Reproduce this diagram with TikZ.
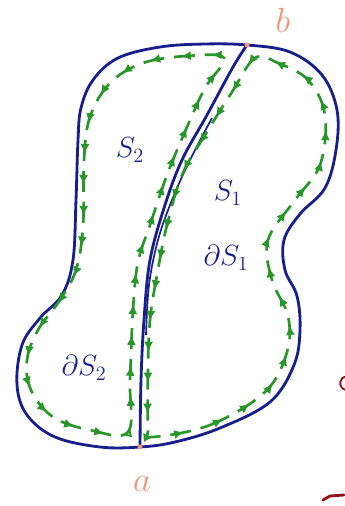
\documentclass[tikz,border=0pt]{standalone}
\usepackage{amsmath,amssymb}
\usepackage{tikz}
\usetikzlibrary{arrows.meta,positioning,decorations.markings}
\definecolor{inkblue}{RGB}{24,30,140}
\definecolor{inkgreen}{RGB}{40,150,40}
\definecolor{salmon}{RGB}{240,150,120}
\definecolor{inkred}{RGB}{140,20,20}
\tikzset{
  rim/.style={draw=inkblue, line width=2pt, line join=round},
  thinrim/.style={draw=inkblue, line width=1.2pt},
  flow/.style={draw=inkgreen, line width=1.9pt, dash pattern=on 15pt off 7pt,
    postaction={decorate},
    decoration={markings, mark=between positions 10pt and -4pt step 22pt with {\arrow[inkgreen]{Latex[open,length=7pt,width=6.5pt,line width=1.4pt]}}}},
  lbl/.style={text=inkblue, font=\fontsize{22}{22}\selectfont},
  endlbl/.style={text=salmon, font=\fontsize{24}{24}\selectfont}
}

\begin{document}
\begin{tikzpicture}[x=0.025cm, y=-0.025cm]
  \useasboundingbox (0,0) rectangle (344,506);
  \coordinate (a) at (140,447);
  \coordinate (b) at (247,45);
  % outer boundary
  \draw[rim] plot[smooth cycle, tension=0.6] coordinates {(b) (290,52) (322,75) (337,110) (336,150) (325,188) (300,214) (284,240) (285,270) (297,296) (300,330) (294,365) (270,402) (220,428) (175,442) (a) (100,447) (55,437) (27,415) (17,385) (22,345) (40,318) (62,295) (73,260) (76,200) (78,140) (81,108) (93,80) (118,58) (160,47) (205,44)};
  % cut from a to b
  \draw[rim] plot[smooth, tension=0.6] coordinates {(a) (141,380) (144,320) (150,260) (165,205) (182,160) (207,115) (233,67) (b)};
  \draw[thinrim] plot[smooth, tension=0.6] coordinates {(146,335) (149,285) (158,240) (172,200) (190,160) (212,118)};
  % orientations
  \draw[flow] plot[smooth cycle, tension=0.6] coordinates {(152,437) (210,425) (265,392) (287,352) (288,316) (272,280) (268,240) (295,200) (320,165) (325,115) (308,80) (278,63) (255,58) (232,92) (205,135) (182,175) (167,225) (157,275) (150,320) (148,370) (148,428)};
  \draw[flow] plot[smooth cycle, tension=0.6] coordinates {(128,432) (130,380) (133,310) (138,262) (150,225) (167,175) (187,127) (205,88) (224,58) (187,56) (143,63) (110,83) (90,117) (84,160) (83,227) (76,270) (60,300) (38,330) (27,360) (31,390) (53,417) (90,430)};
  % endpoints
  \fill[salmon] (a) circle (2.5);
  \fill[salmon] (b) circle (2.5);
  \node[endlbl] (alab) at (142,484) {$a$};
  \node[endlbl] (blab) at (283,20) {$b$};
  % labels
  \node[lbl] (s2) at (130,150) {$S_2$};
  \node[lbl] (s1) at (228,193) {$S_1$};
  \node[lbl] (ds1) at (226,258) {$\partial S_1$};
  \node[lbl] (ds2) at (84,368) {$\partial S_2$};
  % stray marks at the edge
  \draw[inkred, line width=1.3pt] (346,390) arc[start angle=100, end angle=260, radius=7];
  \draw[inkred, line width=2pt, line cap=round] (323,500) -- (330,496) -- (344,495);
\end{tikzpicture}
\end{document}
